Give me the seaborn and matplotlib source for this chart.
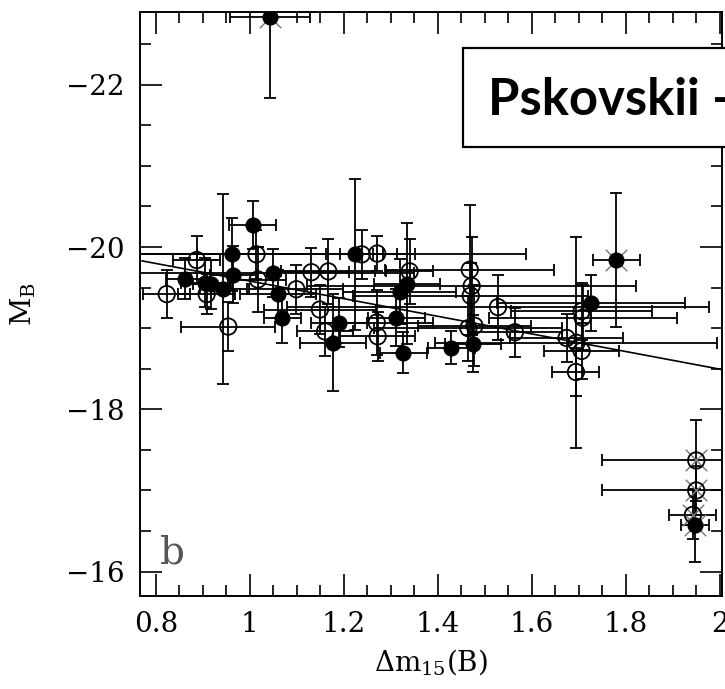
import matplotlib
matplotlib.use("Agg")
import matplotlib.pyplot as plt
from matplotlib.ticker import MultipleLocator
from matplotlib.patches import Rectangle
import seaborn as sns


# ==================================
# DATA
# ==================================

# filled circles
filled_x = [0.862, 0.904, 0.918, 0.943, 0.961, 0.965, 1.006, 1.050, 1.060, 1.069,
            1.190, 1.177, 1.223, 1.326, 1.312, 1.319, 1.335, 1.429, 1.475, 1.726]
filled_y = [-19.61, -19.56, -19.54, -19.48, -19.91, -19.66, -20.27, -19.68, -19.42, -19.12,
            -19.07, -18.82, -19.91, -18.70, -19.13, -19.45, -19.55, -18.76, -18.81, -19.31]
filled_xerr = [0.04, 0.05, 0.04, 0.05, 0.30, 0.05, 0.05, 0.30, 0.08, 0.04,
               0.06, 0.07, 0.06, 0.05, 0.06, 0.12, 0.07, 0.05, 0.06, 0.20]
filled_yerr = [0.25, 0.30, 0.30, 1.17, 0.45, 0.35, 0.30, 0.30, 0.30, 0.30,
               0.30, 0.60, 0.93, 0.25, 0.35, 0.40, 0.75, 0.20, 0.35, 0.35]

# open circles
open_x = [0.823, 0.887, 0.908, 0.954, 1.014, 1.017, 1.099, 1.131, 1.167, 1.149,
          1.160, 1.238, 1.271, 1.270, 1.272, 1.340, 1.468, 1.472, 1.470, 1.528,
          1.465, 1.478, 1.564, 1.674, 1.695, 1.706, 1.694, 1.708, 1.706]
open_y = [-19.42, -19.84, -19.42, -19.02, -19.91, -19.60, -19.48, -19.69, -19.70, -19.23,
          -18.96, -19.91, -19.92, -19.07, -18.90, -19.70, -19.72, -19.52, -19.40, -19.26,
          -19.00, -19.03, -18.95, -18.88, -18.82, -18.72, -18.46, -19.13, -19.21]
open_xerr = [0.05, 0.05, 0.06, 0.10, 0.30, 0.06, 0.10, 0.08, 0.10, 0.12,
             0.06, 0.35, 0.08, 0.12, 0.08, 0.05, 0.18, 0.35, 0.25, 0.45,
             0.20, 0.12, 0.10, 0.12, 0.30, 0.08, 0.05, 0.20, 0.15]
open_yerr = [0.30, 0.30, 0.25, 0.30, 0.30, 0.40, 0.30, 0.30, 0.40, 0.30,
             0.30, 0.30, 0.22, 0.40, 0.30, 0.40, 0.80, 0.60, 0.40, 0.40,
             0.40, 0.50, 0.30, 0.30, 1.30, 0.35, 0.30, 0.40, 0.35]

# filled circles with a cross
cross_filled_x = [1.043, 1.780, 1.947]
cross_filled_y = [-22.84, -19.84, -16.57]
cross_filled_xerr = [0.085, 0.05, 0.03]
cross_filled_yerr = [1.00, 0.83, 0.45]

# open circles with a cross
cross_open_x = [1.950, 1.950, 1.943]
cross_open_y = [-17.37, -17.00, -16.70]
cross_open_xerr = [0.20, 0.20, 0.05]
cross_open_yerr = [0.50, 0.30, 0.30]

# fitted relation
fit_x = [0.77, 2.005]
fit_y = [-19.83, -18.49]

x_ticks = [0.8, 1.0, 1.2, 1.4, 1.6, 1.8, 2.0]
x_tick_labels = ["0.8", "1", "1.2", "1.4", "1.6", "1.8", "2"]
y_ticks = [-22, -20, -18, -16]
y_tick_labels = ["\u221222", "\u221220", "\u221218", "\u221216"]


# ==================================
# STYLE
# ==================================

sns.set_style("ticks")
plt.rcParams["font.family"] = ["DejaVu Serif"]
plt.rcParams["mathtext.fontset"] = "dejavuserif"
plt.rcParams["text.color"] = "black"
plt.rcParams["axes.labelcolor"] = "black"

fig = plt.figure(figsize=(7.25, 6.89), dpi=100)
ax = fig.add_axes([0.193, 0.135, 0.803, 0.848])

err_kw = dict(fmt="none", ecolor="black", elinewidth=1.3, capsize=4.5, capthick=1.3, zorder=2)


# ==================================
# ERROR BARS
# ==================================

ax.errorbar(filled_x, filled_y, xerr=filled_xerr, yerr=filled_yerr, **err_kw)
ax.errorbar(open_x, open_y, xerr=open_xerr, yerr=open_yerr, **err_kw)
ax.errorbar(cross_filled_x, cross_filled_y, xerr=cross_filled_xerr, yerr=cross_filled_yerr, **err_kw)
ax.errorbar(cross_open_x, cross_open_y, xerr=cross_open_xerr, yerr=cross_open_yerr, **err_kw)


# ==================================
# MARKERS
# ==================================

sns.lineplot(x=fit_x, y=fit_y, color="black", linewidth=1.2, ax=ax, zorder=2)

sns.scatterplot(x=cross_filled_x + cross_open_x, y=cross_filled_y + cross_open_y,
                marker="x", s=240, color="#777777", linewidth=1.0, ax=ax, zorder=3)

sns.scatterplot(x=filled_x + cross_filled_x, y=filled_y + cross_filled_y,
                marker="o", s=135, color="black", edgecolor="black", linewidth=0, ax=ax, zorder=4)

sns.scatterplot(x=open_x + cross_open_x, y=open_y + cross_open_y,
                marker="o", s=140, facecolor="none", edgecolor="black", linewidth=1.3,
                ax=ax, zorder=4)


# ==================================
# AXES
# ==================================

ax.set_xlim(0.766, 2.005)
ax.set_ylim(-15.7, -22.9)

ax.set_xticks(x_ticks)
ax.set_xticklabels(x_tick_labels)
ax.set_yticks(y_ticks)
ax.set_yticklabels(y_tick_labels)
ax.xaxis.set_minor_locator(MultipleLocator(0.05))
ax.yaxis.set_minor_locator(MultipleLocator(0.5))

ax.tick_params(which="both", direction="in", top=True, right=True, width=1.2,
               colors="black", labelcolor="black")
ax.tick_params(which="major", length=16, labelsize=20, pad=11)
ax.tick_params(which="minor", length=8)

for side in ax.spines.values():
    side.set_linewidth(1.4)
    side.set_color("black")

ax.set_xlabel(r"$\Delta\mathrm{m}_{15}\mathrm{(B)}$", fontsize=20, labelpad=6)
ax.set_ylabel(r"$\mathrm{M_B}$", fontsize=20, labelpad=20)

ax.text(0.035, 0.055, "b", transform=ax.transAxes, fontsize=28, color="#555555",
        ha="left", va="baseline")


# ==================================
# SLIDE LABEL BOX
# ==================================

fig.patches.append(Rectangle((463 / 725, 1 - 147 / 689), 0.4, (147 - 48) / 689,
                             transform=fig.transFigure, facecolor="white",
                             edgecolor="black", linewidth=1.6, zorder=5))
fig.text(488 / 725, 1 - 115 / 689, "Pskovskii -", fontsize=36.5, fontweight="bold",
         color="black", family=["Lato", "DejaVu Sans"], ha="left", va="baseline", zorder=6)

fig.savefig("out.png", dpi=100)
